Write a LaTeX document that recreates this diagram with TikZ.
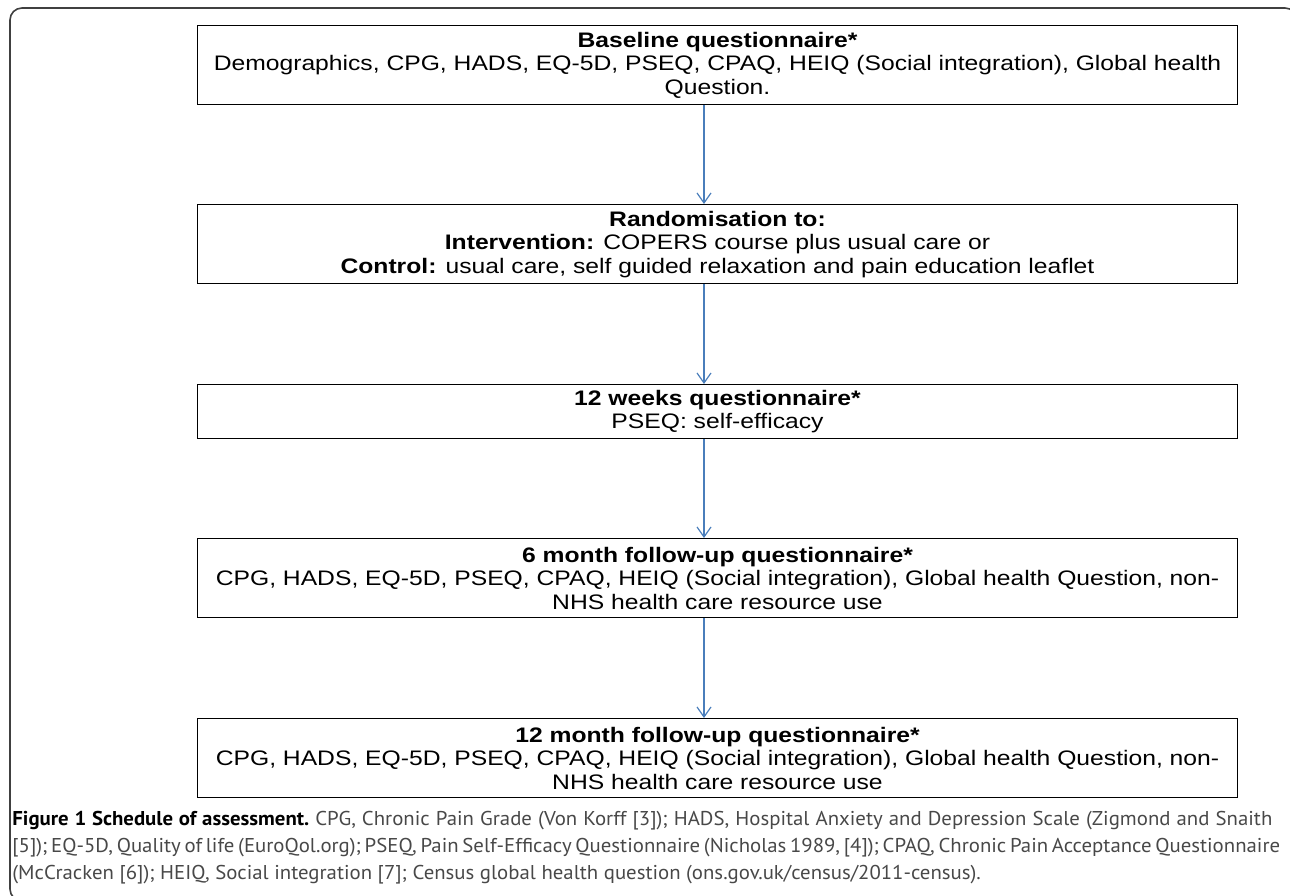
\documentclass[tikz,border=0pt]{standalone}
\usepackage{fontspec}
\setmainfont{Liberation Sans}[FakeStretch=1.175]
\newfontfamily\legende{PT Sans}[FakeStretch=1.04]
\usetikzlibrary{arrows.meta}
\definecolor{bleufleche}{RGB}{74,126,187}
\definecolor{grislegende}{RGB}{72,72,72}
\newcommand{\LigneLegende}[1]{\makebox[630pt][s]{#1}}

\begin{document}
\begin{tikzpicture}[x=0.5pt,y=-0.5pt,
	boite/.style={draw,line width=0.6pt,anchor=north,minimum width=520pt,minimum height=39.5pt,
		inner sep=0pt,align=center,font=\fontsize{10.5}{11.75}\selectfont},
	fleche/.style={draw=bleufleche,line width=0.6pt,-{Straight Barb[length=5pt,width=7pt]}}]
	\def\largeur{1290}
	\def\hauteur{895}
	\def\xc{717.5}
	\useasboundingbox (0,0) rectangle (\largeur,\hauteur);
	\clip (0,0) rectangle (\largeur,\hauteur);
	
	%Cadre
	\draw[line width=0.8pt,black!75,rounded corners=6pt] (10,8) rectangle (1297,901);
	
	%Etapes
	\node[boite] (base) at (\xc,25) {\textbf{Baseline questionnaire*}\\Demographics, CPG, HADS, EQ-5D, PSEQ, CPAQ, HEIQ (Social integration), Global health\\Question.};
	\node[boite] (rando) at (\xc,204) {\textbf{Randomisation to:}\\\textbf{Intervention:} COPERS course plus usual care or\\\textbf{Control:} usual care, self guided relaxation and pain education leaflet};
	\node[boite,minimum height=27pt] (semaines) at (\xc,384) {\textbf{12 weeks questionnaire*}\\PSEQ: self-efficacy};
	\node[boite] (sixmois) at (\xc,538) {\textbf{6 month follow-up questionnaire*}\\CPG, HADS, EQ-5D, PSEQ, CPAQ, HEIQ (Social integration), Global health Question, non-\\NHS health care resource use};
	\node[boite] (douzemois) at (\xc,718) {\textbf{12 month follow-up questionnaire*}\\CPG, HADS, EQ-5D, PSEQ, CPAQ, HEIQ (Social integration), Global health Question, non-\\NHS health care resource use};
	
	%Fleches
	\coordinate (fx) at (704,0);
	\draw[fleche] (base.south -| fx) -- (rando.north -| fx);
	\draw[fleche] (rando.south -| fx) -- (semaines.north -| fx);
	\draw[fleche] (semaines.south -| fx) -- (sixmois.north -| fx);
	\draw[fleche] (sixmois.south -| fx) -- (douzemois.north -| fx);
	
	%Legende
	\node[anchor=north west,inner sep=0pt,align=left,text=grislegende,
		font=\legende\fontsize{10}{13.5}\selectfont\frenchspacing] (legende) at (12,811)
		{\LigneLegende{\textcolor{black}{\textbf{Figure 1 Schedule of assessment.}} CPG, Chronic Pain Grade (Von Korff [3]); HADS, Hospital Anxiety and Depression Scale (Zigmond and Snaith}\\
		\LigneLegende{[5]); EQ-5D, Quality of life (EuroQol.org); PSEQ, Pain Self-Efficacy Questionnaire (Nicholas 1989, [4]); CPAQ, Chronic Pain Acceptance Questionnaire}\\
		(McCracken [6]); HEIQ, Social integration [7]; Census global health question (ons.gov.uk/census/2011-census).};
\end{tikzpicture}
\end{document}
